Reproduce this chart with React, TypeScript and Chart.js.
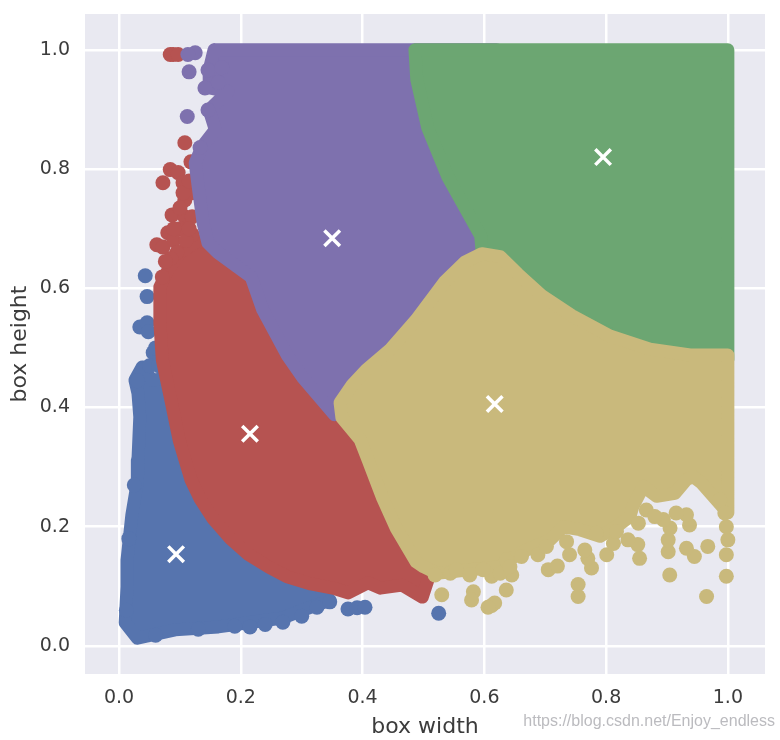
import React, { useEffect, useRef } from "react";
import { Chart, registerables } from "chart.js";

Chart.register(...registerables);

type P = [number, number];

const tickValues = [0, 0.2, 0.4, 0.6, 0.8, 1.0];
const xLabel = "box width";
const yLabel = "box height";
const watermark = "https://blog.csdn.net/Enjoy_endless";

const blueOutline: P[] = [
  [0.038, 0.468], [0.026, 0.446], [0.031, 0.424], [0.034, 0.384], [0.031, 0.312], [0.03, 0.275],
  [0.021, 0.22], [0.013, 0.144], [0.013, 0.099], [0.01, 0.039], [0.03, 0.013], [0.092, 0.027],
  [0.163, 0.032], [0.212, 0.039], [0.269, 0.047], [0.294, 0.057], [0.325, 0.069], [0.346, 0.077],
  [0.25, 0.2], [0.1, 0.45], [0.054, 0.446], [0.038, 0.468],
];
const bluePoints: P[] = [
  [0.043, 0.621], [0.046, 0.586], [0.034, 0.535], [0.046, 0.542], [0.048, 0.527], [0.056, 0.492],
  [0.376, 0.062], [0.391, 0.064], [0.404, 0.065], [0.525, 0.055], [0.325, 0.065], [0.346, 0.074],
  [0.215, 0.032], [0.269, 0.04], [0.03, 0.445], [0.05, 0.47], [0.06, 0.018], [0.13, 0.028],
  [0.19, 0.033], [0.24, 0.036], [0.3, 0.05], [0.025, 0.27], [0.016, 0.18], [0.012, 0.06],
  [0.06, 0.5], [0.065, 0.47],
];

const redOutline: P[] = [
  [0.067, 0.602], [0.067, 0.542], [0.071, 0.48], [0.084, 0.418], [0.099, 0.344], [0.118, 0.279],
  [0.133, 0.247], [0.154, 0.214], [0.182, 0.181], [0.213, 0.153], [0.245, 0.133], [0.276, 0.116],
  [0.315, 0.104], [0.355, 0.096], [0.376, 0.089], [0.409, 0.106],
  [0.429, 0.097], [0.465, 0.102], [0.498, 0.082], [0.52, 0.15], [0.4, 0.4], [0.25, 0.64],
  [0.13, 0.68], [0.1, 0.66], [0.08, 0.63], [0.067, 0.602],
];
const redPoints: P[] = [
  [0.089, 0.992], [0.084, 0.992], [0.097, 0.992], [0.108, 0.844], [0.118, 0.812], [0.084, 0.799],
  [0.072, 0.777], [0.097, 0.794], [0.105, 0.777], [0.108, 0.748], [0.087, 0.723], [0.108, 0.72],
  [0.08, 0.693], [0.062, 0.673], [0.072, 0.669], [0.071, 0.619], [0.1, 0.7], [0.118, 0.76],
  [0.09, 0.68], [0.1, 0.735], [0.12, 0.72], [0.12, 0.69], [0.095, 0.66], [0.085, 0.65],
  [0.09, 0.7], [0.11, 0.68], [0.115, 0.7], [0.105, 0.76], [0.115, 0.78], [0.076, 0.645],
];

const purpleOutline: P[] = [
  [0.156, 1.0], [0.62, 1.0], [0.62, 0.62], [0.38, 0.4], [0.354, 0.388], [0.302, 0.45], [0.276, 0.488],
  [0.236, 0.564], [0.217, 0.619], [0.163, 0.659], [0.146, 0.676], [0.138, 0.71], [0.13, 0.77],
  [0.125, 0.81], [0.136, 0.837], [0.158, 0.866], [0.148, 0.899], [0.179, 0.93], [0.148, 0.936],
  [0.148, 0.966], [0.156, 1.0],
];
const purplePoints: P[] = [
  [0.125, 0.995], [0.113, 0.992], [0.115, 0.963], [0.112, 0.888], [0.141, 0.936], [0.163, 0.945],
  [0.146, 0.899], [0.146, 0.966], [0.169, 0.97], [0.133, 0.836],
];

const greenOutline: P[] = [
  [0.486, 1.0], [1.0, 1.0], [1.0, 0.48], [0.9, 0.48], [0.6, 0.62], [0.594, 0.688], [0.54, 0.787],
  [0.507, 0.869], [0.489, 0.95], [0.486, 1.0],
];

const yellowOutline: P[] = [
  [0.363, 0.408], [0.383, 0.438], [0.406, 0.463], [0.445, 0.497], [0.488, 0.547], [0.535, 0.611],
  [0.568, 0.644], [0.596, 0.658], [0.626, 0.653], [0.655, 0.624], [0.695, 0.587], [0.744, 0.554],
  [0.806, 0.52], [0.872, 0.498], [0.938, 0.488], [1.0, 0.488], [1.0, 0.245], [1.0, 0.223],
  [0.957, 0.273], [0.943, 0.284], [0.932, 0.279], [0.913, 0.256], [0.883, 0.251], [0.861, 0.268],
  [0.844, 0.234], [0.839, 0.217], [0.817, 0.2], [0.79, 0.184], [0.757, 0.195], [0.73, 0.2],
  [0.708, 0.178], [0.658, 0.156], [0.626, 0.133], [0.576, 0.128], [0.522, 0.122], [0.5, 0.133],
  [0.488, 0.141], [0.455, 0.198], [0.433, 0.248], [0.409, 0.312], [0.396, 0.346], [0.366, 0.383],
  [0.363, 0.408],
];
const yellowPoints: P[] = [
  [0.9975, 0.153], [1.0, 0.178], [0.9975, 0.2], [0.9045, 0.119], [0.9975, 0.117], [0.965, 0.083],
  [0.967, 0.167], [0.945, 0.15], [0.932, 0.164], [0.902, 0.158], [0.902, 0.178], [0.905, 0.198],
  [0.937, 0.203], [0.932, 0.22], [0.894, 0.212], [0.866, 0.228], [0.855, 0.147], [0.852, 0.17],
  [0.836, 0.178], [0.853, 0.206], [0.801, 0.153], [0.812, 0.172], [0.776, 0.131], [0.77, 0.147],
  [0.765, 0.161], [0.74, 0.153], [0.735, 0.175], [0.705, 0.128], [0.72, 0.134], [0.688, 0.153],
  [0.661, 0.15], [0.645, 0.119], [0.636, 0.094], [0.612, 0.117], [0.582, 0.091], [0.579, 0.077],
  [0.612, 0.068], [0.617, 0.072], [0.606, 0.065], [0.754, 0.103], [0.754, 0.083], [0.53, 0.086],
  [0.519, 0.119], [0.544, 0.122], [0.576, 0.119], [0.626, 0.122], [0.784, 0.189], [0.817, 0.192],
  [0.88, 0.217], [0.915, 0.223], [0.987, 0.245], [0.995, 0.223], [0.702, 0.167], [0.636, 0.144],
  [0.598, 0.128], [0.554, 0.128], [0.642, 0.133],
];

const centroids: P[] = [
  [0.0936, 0.154], [0.215, 0.356], [0.35, 0.684], [0.795, 0.82], [0.617, 0.406],
];

const BLUE = "#5674AE";
const RED = "#B65351";
const PURPLE = "#7E71AE";
const GREEN = "#6CA672";
const YELLOW = "#C9B97C";
const GRID = "#FFFFFF";
const PANEL = "#E9E9F1";
const TEXT = "#3C3C3C";
const FONT = "'DejaVu Sans'";

const xy = (list: P[]) => list.map(([x, y]) => ({ x, y }));

const region = (list: P[], color: string) => ({
  data: xy(list),
  showLine: true,
  fill: "shape" as const,
  backgroundColor: color,
  borderColor: color,
  borderWidth: 13,
  borderJoinStyle: "round" as const,
  borderCapStyle: "round" as const,
  pointRadius: 0,
  tension: 0,
});

const dots = (list: P[], color: string) => ({
  data: xy(list),
  showLine: false,
  backgroundColor: color,
  borderColor: color,
  borderWidth: 0,
  pointRadius: 7.5,
});

const panelPlugin = {
  id: "panel",
  beforeDraw(chart: any) {
    const { ctx, chartArea: a } = chart;
    ctx.save();
    ctx.fillStyle = PANEL;
    ctx.fillRect(a.left, a.top, a.right - a.left, a.bottom - a.top);
    ctx.restore();
  },
  afterDraw(chart: any) {
    const { ctx, width } = chart;
    ctx.save();
    ctx.fillStyle = "rgba(175,175,180,0.85)";
    ctx.font = "16px 'Liberation Sans'";
    ctx.textAlign = "right";
    ctx.textBaseline = "middle";
    ctx.fillText(watermark, width - 5, 722);
    ctx.restore();
  },
};

export default function App() {
  const ref = useRef<HTMLCanvasElement>(null);
  useEffect(() => {
    const chart = new Chart(ref.current as HTMLCanvasElement, {
      type: "scatter",
      plugins: [panelPlugin],
      data: {
        datasets: [
          {
            data: xy(centroids),
            showLine: false,
            pointStyle: "crossRot",
            pointRadius: 11,
            borderColor: "#FFFFFF",
            backgroundColor: "#FFFFFF",
            pointBorderWidth: 3.5,
          },
          dots(yellowPoints, YELLOW),
          region(yellowOutline, YELLOW),
          region(greenOutline, GREEN),
          dots(purplePoints, PURPLE),
          region(purpleOutline, PURPLE),
          dots(redPoints, RED),
          region(redOutline, RED),
          dots(bluePoints, BLUE),
          region(blueOutline, BLUE),
        ] as any,
      },
      options: {
        animation: false,
        responsive: false,
        devicePixelRatio: 1,
        layout: { autoPadding: false, padding: { top: 14, right: 15, left: 0, bottom: 0 } },
        plugins: { legend: { display: false }, tooltip: { enabled: false } },
        scales: {
          x: {
            type: "linear",
            min: -0.056,
            max: 1.061,
            afterFit: (s: any) => { s.height = 66; s.paddingLeft = 0; s.paddingRight = 0; },
            afterBuildTicks: (s: any) => { s.ticks = tickValues.map((value) => ({ value })); },
            grid: { color: GRID, lineWidth: 2.5, drawTicks: false },
            border: { display: false },
            ticks: {
              color: TEXT,
              padding: 13,
              maxRotation: 0,
              font: { family: FONT, size: 19 },
              callback: (v: any) => Number(v).toFixed(1),
            },
            title: {
              display: true,
              text: xLabel,
              color: TEXT,
              font: { family: FONT, size: 22 },
              padding: { top: 0, bottom: 0 },
            },
          },
          y: {
            type: "linear",
            min: -0.047,
            max: 1.06,
            afterFit: (s: any) => { s.width = 85; s.paddingTop = 0; s.paddingBottom = 0; },
            afterBuildTicks: (s: any) => { s.ticks = tickValues.map((value) => ({ value })); },
            grid: { color: GRID, lineWidth: 2.5, drawTicks: false },
            border: { display: false },
            ticks: {
              color: TEXT,
              padding: 15,
              font: { family: FONT, size: 19 },
              callback: (v: any) => Number(v).toFixed(1),
            },
            title: {
              display: true,
              text: yLabel,
              color: TEXT,
              font: { family: FONT, size: 22 },
              padding: { top: 7, bottom: 0 },
            },
          },
        },
      } as any,
    });
    return () => chart.destroy();
  }, []);
  return (
    <div style={{ position: "fixed", left: 0, top: 0, width: 780, height: 740, background: "#fff" }}>
      <canvas ref={ref} width={780} height={740} style={{ display: "block", filter: "blur(0.6px)" }} />
    </div>
  );
}
